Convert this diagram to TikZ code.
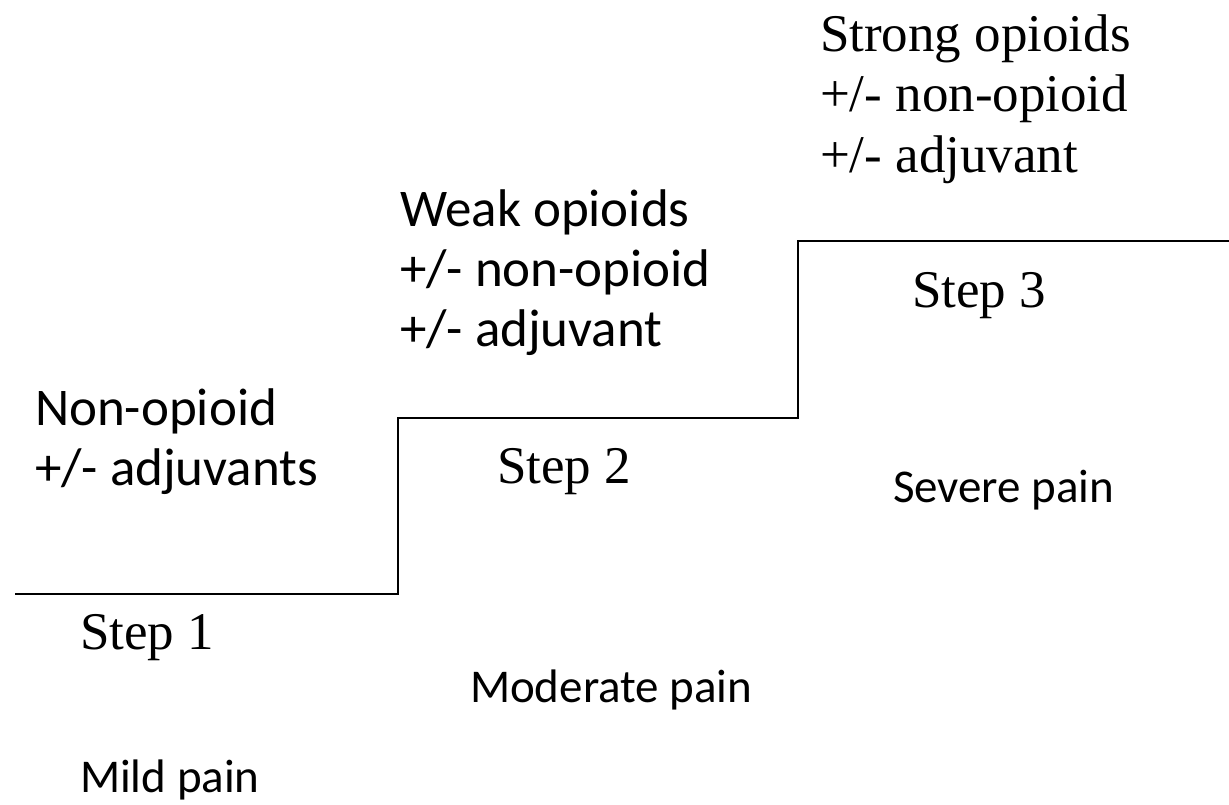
\documentclass[tikz,border=0pt]{standalone}
\usepackage{fontspec}
\setmainfont{Liberation Serif}
\newfontfamily\calib{Carlito}
\begin{document}
\begin{tikzpicture}[x=1pt,y=-1pt,
  lbl/.style={anchor=base west,inner sep=0pt,outer sep=0pt},
  sanslbl/.style={lbl,font=\calib\fontsize{53}{60}\selectfont},
  painlbl/.style={lbl,font=\calib\fontsize{47}{56}\selectfont},
  seriflbl/.style={lbl,font=\fontsize{53}{60}\selectfont},
  stair/.style={line width=2pt,black}]
\useasboundingbox (0,0) rectangle (1229,804);
% staircase
\coordinate (s0) at (15,594);
\coordinate (s1) at (398,594);
\coordinate (s2) at (398,418);
\coordinate (s3) at (798,418);
\coordinate (s4) at (798,241);
\coordinate (s5) at (1229,241);
\draw[stair] (s0) -- (s1) -- (s2) -- (s3) -- (s4) -- (s5);
% step 1
\node[sanslbl] (n1a) at (35,425) {Non-opioid};
\node[sanslbl] (n1b) at (35,485) {+/- adjuvants};
\node[seriflbl] (st1) at (80,649) {Step 1};
\node[painlbl] (p1) at (80,792) {Mild pain};
% step 2
\node[sanslbl] (n2a) at (400,226) {Weak opioids};
\node[sanslbl] (n2b) at (400,286) {+/- non-opioid};
\node[sanslbl] (n2c) at (400,346) {+/- adjuvant};
\node[seriflbl] (st2) at (497,483) {Step 2};
\node[painlbl] (p2) at (470,702) {Moderate pain};
% step 3
\node[seriflbl] (n3a) at (820,51) {Strong opioids};
\node[seriflbl] (n3b) at (820,111) {+/- non-opioid};
\node[seriflbl] (n3c) at (820,172) {+/- adjuvant};
\node[seriflbl] (st3) at (912,307) {Step 3};
\node[painlbl] (p3) at (893,502) {Severe pain};
\end{tikzpicture}
\end{document}
